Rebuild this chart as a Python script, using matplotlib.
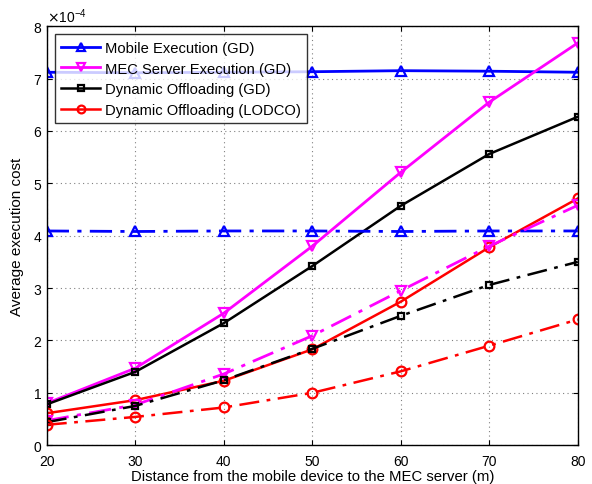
import numpy as np
import matplotlib
matplotlib.use("Agg")
import matplotlib.pyplot as plt

plt.rcParams['font.family'] = ['Liberation Sans', 'DejaVu Sans']

# distance (m)
distance = [20, 30, 40, 50, 60, 70, 80]

# average execution cost, in units of 1e-4
mobile_a = [7.12, 7.11, 7.12, 7.13, 7.15, 7.14, 7.12]
mec_a = [0.80, 1.47, 2.52, 3.80, 5.21, 6.55, 7.68]
dyn_gd_a = [0.78, 1.40, 2.33, 3.42, 4.57, 5.56, 6.27]
lodco_a = [0.61, 0.86, 1.23, 1.83, 2.74, 3.78, 4.71]

mobile_b = [4.09, 4.08, 4.09, 4.09, 4.08, 4.09, 4.09]
mec_b = [0.47, 0.77, 1.36, 2.09, 2.95, 3.80, 4.58]
dyn_gd_b = [0.44, 0.75, 1.24, 1.84, 2.47, 3.06, 3.50]
lodco_b = [0.39, 0.54, 0.72, 1.00, 1.41, 1.90, 2.40]

labels = ["Mobile Execution (GD)", "MEC Server Execution (GD)",
          "Dynamic Offloading (GD)", "Dynamic Offloading (LODCO)"]

scale = 1e-4
x = np.array(distance)

fig = plt.figure(figsize=(5.92, 4.85), dpi=100)
ax = fig.add_axes([0.079, 0.080, 0.897, 0.864])

styles = [
    ("blue", "^", 7, 2.0),
    ("magenta", "v", 7, 2.0),
    ("black", "s", 5, 1.8),
    ("red", "o", 7, 1.8),
]
series_a = [mobile_a, mec_a, dyn_gd_a, lodco_a]
series_b = [mobile_b, mec_b, dyn_gd_b, lodco_b]

for (c, m, ms, lw), ya, lab in zip(styles, series_a, labels):
    ax.plot(x, np.array(ya) * scale, color=c, marker=m, markersize=ms,
            markerfacecolor="none", markeredgewidth=1.6, lw=lw, label=lab)
for (c, m, ms, lw), yb in zip(styles, series_b):
    ax.plot(x, np.array(yb) * scale, color=c, marker=m, markersize=ms,
            markerfacecolor="none", markeredgewidth=1.6, lw=lw,
            linestyle=(0, (8, 3, 1.5, 3)))

ax.set_xlim(20, 80)
ax.set_ylim(0, 8e-4)
ax.set_xticks(distance)
ax.set_yticks(np.arange(0, 9) * scale)
ax.ticklabel_format(axis="y", style="sci", scilimits=(0, 0), useMathText=True)
ax.yaxis.get_offset_text().set_fontsize(10)
ax.tick_params(direction="in", labelsize=10, top=True, right=True)
ax.tick_params(axis="x", pad=6)
ax.grid(True, linestyle=(0, (1, 3)), color="gray", lw=0.8)
for s in ax.spines.values():
    s.set_linewidth(1.0)

ax.set_xlabel("Distance from the mobile device to the MEC server (m)", fontsize=10.7, labelpad=1)
ax.set_ylabel("Average execution cost", fontsize=11, labelpad=6)

leg = ax.legend(loc="upper left", fontsize=10.6, frameon=True, fancybox=False,
                edgecolor="black", handlelength=2.6, borderaxespad=0.55,
                labelspacing=0.45, borderpad=0.45, handletextpad=0.35,
                markerscale=0.8)
leg.get_frame().set_linewidth(1.0)

fig.savefig("out.png", dpi=100)
